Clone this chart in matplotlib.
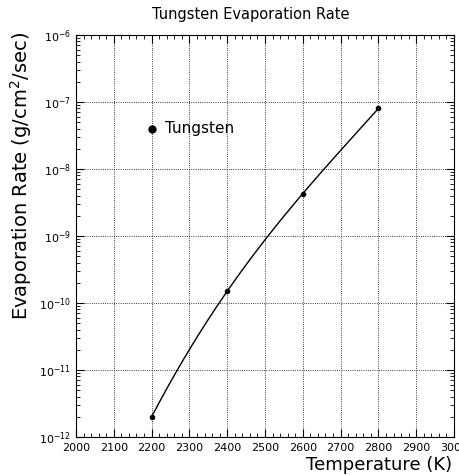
import numpy as np
import matplotlib
matplotlib.use("Agg")
import matplotlib.pyplot as plt
from matplotlib.ticker import MultipleLocator, LogLocator, NullFormatter

# evaporation rate of tungsten vs temperature
temperature = [2200, 2400, 2600, 2800]
rate = [2.0e-12, 1.5e-10, 4.3e-9, 8.0e-8]

plt.rcParams['font.family'] = ['DejaVu Sans']
plt.rcParams['mathtext.fontset'] = 'dejavusans'

fig = plt.figure(figsize=(4.59, 4.75), dpi=100)
ax = fig.add_axes([76 / 459, 38 / 475, 378 / 459, 402 / 475])

# smooth curve through the points in log space
coef = np.polyfit(temperature, np.log10(rate), 3)
tt = np.linspace(temperature[0], temperature[-1], 200)
ax.plot(tt, 10 ** np.polyval(coef, tt), color='black', lw=1)
ax.plot(temperature, rate, 'o', color='black', ms=3)

ax.set_yscale('log')
ax.set_xlim(2000, 3000)
ax.set_ylim(1e-12, 1e-6)

ax.xaxis.set_major_locator(MultipleLocator(100))
ax.xaxis.set_minor_locator(MultipleLocator(20))
ax.yaxis.set_major_locator(LogLocator(base=10, numticks=10))
ax.yaxis.set_minor_locator(LogLocator(base=10, subs=np.arange(2, 10), numticks=20))
ax.yaxis.set_minor_formatter(NullFormatter())

ax.tick_params(which='both', direction='in', top=True, right=True, labelsize=8)
ax.tick_params(which='major', length=6)
ax.tick_params(which='minor', length=3)
ax.tick_params(axis='x', pad=4)
ax.grid(True, which='major', linestyle=':', color='black', lw=0.6)

# the last tick label runs past the figure edge
for lab in ax.get_xticklabels():
    lab.set_clip_on(False)

# legend entry
ax.plot([2200], [4e-8], 'o', color='black', ms=5)
ax.text(2235, 4e-8, 'Tungsten', fontsize=11, va='center', ha='left')

fig.text(251 / 459, 1 - 14 / 475, 'Tungsten Evaporation Rate', ha='center', va='center',
         fontsize=10.5)
fig.text(452 / 459, 1 - 465 / 475, 'Temperature (K)', ha='right', va='center', fontsize=13)
fig.text(21 / 459, 1 - 176 / 475, 'Evaporation Rate (g/cm$^{2}$/sec)', ha='center', va='center',
         rotation=90, fontsize=14)

fig.savefig('out.png', dpi=100)
